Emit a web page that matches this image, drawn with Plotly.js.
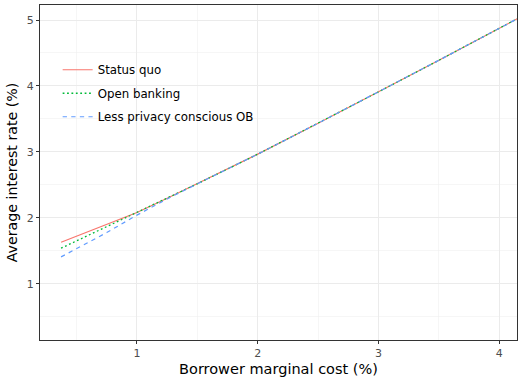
<!DOCTYPE html>
<html>
<head>
<meta charset="utf-8">
<script src="https://cdn.plot.ly/plotly-3.0.1.min.js"></script>
<style>html,body{margin:0;padding:0;background:#fff;}#chart{width:518px;height:380px;}</style>
</head>
<body>
<div id="chart"></div>
<script>
// Borrower marginal cost (%)
const marginalCost = [0.372, 0.5, 0.75, 1.0, 1.25, 1.5, 2.0, 2.5, 3.0, 3.5, 4.0, 4.2];
// Average interest rate (%)
const statusQuo      = [1.629, 1.722, 1.895, 2.08, 2.296, 2.515, 2.965, 3.435, 3.91, 4.39, 4.875, 5.07];
const openBanking    = [1.538, 1.650, 1.860, 2.075, 2.295, 2.515, 2.965, 3.435, 3.91, 4.39, 4.875, 5.07];
const lessPrivacyOB  = [1.406, 1.532, 1.775, 2.040, 2.285, 2.515, 2.965, 3.435, 3.91, 4.39, 4.875, 5.07];
const seriesNames = ["Status quo", "Open banking", "Less privacy conscious OB"];
const xTicks = [1, 2, 3, 4];
const yTicks = [1, 2, 3, 4, 5];

const font = "DejaVu Sans, sans-serif";
const traces = [
  {x: marginalCost, y: statusQuo, name: seriesNames[0], legendgroup: "a",
   line: {color: "#F8766D", width: 1.2, dash: "solid"}},
  {x: marginalCost, y: openBanking, name: seriesNames[1], legendgroup: "b",
   line: {color: "#00BA38", width: 1.3, dash: "1.8px,2.6px"}},
  {x: marginalCost, y: lessPrivacyOB, name: seriesNames[2], legendgroup: "c",
   line: {color: "#619CFF", width: 1.2, dash: "4.3px,4.3px"}}
].map(t => Object.assign({type: "scatter", mode: "lines"}, t));

const axisCommon = {
  showgrid: true, gridcolor: "#ebebeb", gridwidth: 1,
  zeroline: false, showline: true, linecolor: "#333333", linewidth: 1, mirror: true,
  ticks: "outside", ticklen: 3, tickcolor: "#333333", tickwidth: 1,
  tickfont: {family: font, size: 11, color: "#4d4d4d"}
};

const layout = {
  width: 518, height: 380,
  margin: {l: 40, r: 1, t: 5, b: 40},
  paper_bgcolor: "#fff", plot_bgcolor: "#fff",
  font: {family: font, color: "#000"},
  showlegend: true,
  legend: {x: 0.037, y: 0.85, xanchor: "left", yanchor: "top",
           bgcolor: "rgba(255,255,255,0)", traceorder: "grouped", tracegroupgap: 4.5,
           font: {family: font, size: 11.8, color: "#000"}},
  xaxis: Object.assign({}, axisCommon, {
    range: [0.1975, 4.146], tickvals: xTicks, ticktext: xTicks.map(String),
    minor: {showgrid: true, gridcolor: "#f0f0f0", gridwidth: 0.6, tickvals: [0.5, 1.5, 2.5, 3.5], ticks: ""},
    title: {text: "Borrower marginal cost (%)", font: {family: font, size: 14.5, color: "#000"}, standoff: 4}
  }),
  yaxis: Object.assign({}, axisCommon, {
    range: [0.145, 5.228], tickvals: yTicks, ticktext: yTicks.map(String),
    minor: {showgrid: true, gridcolor: "#f0f0f0", gridwidth: 0.6, tickvals: [0.5, 1.5, 2.5, 3.5, 4.5], ticks: ""},
    title: {text: "Average interest rate (%)", font: {family: font, size: 14.2, color: "#000"}, standoff: 5}
  })
};

Plotly.newPlot("chart", traces, layout, {staticPlot: true, displayModeBar: false});
</script>
</body>
</html>
